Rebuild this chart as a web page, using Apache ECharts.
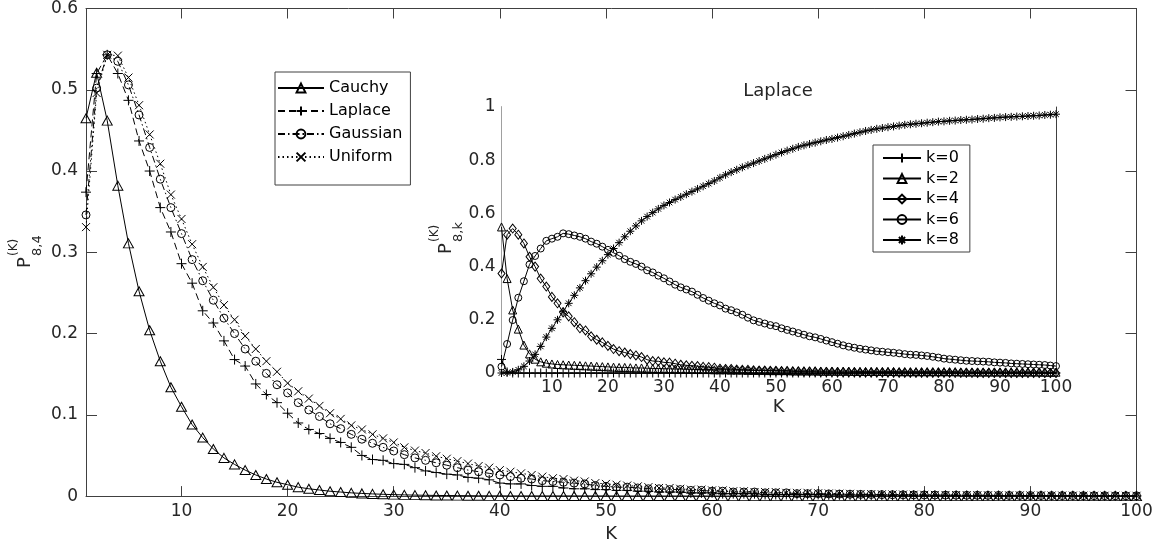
<!DOCTYPE html>
<html><head><meta charset="utf-8">
<script src="https://cdn.jsdelivr.net/npm/echarts@6/dist/echarts.min.js"></script>
<style>html,body{margin:0;padding:0;background:#fff}#c{width:1163px;height:548px}</style>
</head><body><div id="c"></div>
<script>
// ---- data ----
const K = Array.from({length: 100}, (_, i) => i + 1);
const xTicks = [10, 20, 30, 40, 50, 60, 70, 80, 90, 100];
const mainYTicks = ['0', '0.1', '0.2', '0.3', '0.4', '0.5', '0.6'];
const insetYTicks = ['0', '0.2', '0.4', '0.6', '0.8', '1'];

const cauchy = [0.465,0.521,0.462,0.382,0.311,0.252,0.204,0.166,0.134,0.110,
 0.088,0.072,0.058,0.047,0.039,0.032,0.026,0.021,0.017,0.014,
 0.011,0.009,0.0075,0.006,0.005,0.004,0.0033,0.0027,0.0022,0.0018,
 0.0015,0.0012,0.001,0.0008,0.0007,0.0006,0.0005,0.0004,0.0003,0.0003,
 0.0002,0.0002,0.0002,0.0002,0.0002,0.0002,0.0002,0.0002,0.0002,0.0002,
 0.0001,0.0001,0.0001,0.0001,0.0001,0.0001,0.0001,0.0001,0.0001,0.0001,
 0,0,0,0,0,0,0,0,0,0, 0,0,0,0,0,0,0,0,0,0, 0,0,0,0,0,0,0,0,0,0, 0,0,0,0,0,0,0,0,0,0];

const laplace = [0.374,0.520,0.543,0.520,0.487,0.437,0.400,0.355,0.325,0.286,
 0.262,0.228,0.213,0.191,0.168,0.160,0.138,0.125,0.115,0.102,
 0.090,0.082,0.077,0.071,0.066,0.060,0.050,0.045,0.044,0.040,
 0.039,0.035,0.031,0.029,0.027,0.026,0.023,0.022,0.020,0.016,
 0.015,0.015,0.013,0.012,0.012,0.010,0.009,0.009,0.008,0.008,
 0.007,0.007,0.006,0.006,0.005,0.005,0.005,0.004,0.004,0.004,
 0.003,0.003,0.003,0.003,0.002,0.002,0.002,0.002,0.002,0.002,
 0.0015,0.0015,0.0015,0.0012,0.0012,0.0012,0.001,0.001,0.001,0.001,
 0.0008,0.0008,0.0008,0.0007,0.0007,0.0006,0.0006,0.0006,0.0005,0.0005,
 0.0005,0.0004,0.0004,0.0004,0.0003,0.0003,0.0003,0.0003,0.0002,0.0002];

const gaussian = [0.346,0.502,0.543,0.535,0.506,0.469,0.429,0.390,0.355,0.323,
 0.291,0.265,0.241,0.219,0.200,0.181,0.166,0.151,0.137,0.127,
 0.115,0.106,0.098,0.089,0.083,0.076,0.070,0.065,0.060,0.0555,
 0.051,0.047,0.044,0.041,0.038,0.035,0.032,0.030,0.028,0.026,
 0.024,0.022,0.021,0.019,0.018,0.017,0.016,0.015,0.013,0.012,
 0.011,0.011,0.010,0.009,0.009,0.008,0.008,0.007,0.007,0.006,
 0.006,0.005,0.005,0.005,0.004,0.004,0.004,0.003,0.003,0.003,
 0.0027,0.0025,0.0023,0.0021,0.002,0.0018,0.0017,0.0016,0.0015,0.0014,
 0.0013,0.0012,0.0011,0.001,0.001,0.0009,0.0009,0.0008,0.0008,0.0007,
 0.0007,0.0006,0.0006,0.0006,0.0005,0.0005,0.0005,0.0004,0.0004,0.0004];

const uniform = [0.331,0.496,0.543,0.542,0.515,0.481,0.445,0.409,0.371,0.341,
 0.310,0.282,0.257,0.235,0.217,0.197,0.181,0.166,0.153,0.139,
 0.129,0.120,0.111,0.102,0.095,0.087,0.082,0.076,0.071,0.066,
 0.060,0.056,0.053,0.049,0.046,0.043,0.040,0.037,0.035,0.032,
 0.030,0.028,0.026,0.024,0.022,0.021,0.019,0.018,0.016,0.015,
 0.014,0.013,0.012,0.011,0.010,0.010,0.009,0.008,0.008,0.007,
 0.007,0.006,0.006,0.005,0.005,0.005,0.004,0.004,0.004,0.0035,
 0.0032,0.003,0.0028,0.0026,0.0024,0.0022,0.002,0.0019,0.0017,0.0016,
 0.0015,0.0014,0.0013,0.0012,0.0011,0.001,0.001,0.0009,0.0009,0.0008,
 0.0008,0.0007,0.0007,0.0006,0.0006,0.0005,0.0005,0.0005,0.0004,0.0004];

// inset: Laplace, P(K)_{8,k}
const k0 = [0.051,0.004,0,0,0,0,0,0,0,0, 0,0,0,0,0,0,0,0,0,0, 0,0,0,0,0,0,0,0,0,0,
 0,0,0,0,0,0,0,0,0,0, 0,0,0,0,0,0,0,0,0,0, 0,0,0,0,0,0,0,0,0,0,
 0,0,0,0,0,0,0,0,0,0, 0,0,0,0,0,0,0,0,0,0, 0,0,0,0,0,0,0,0,0,0, 0,0,0,0,0,0,0,0,0,0];

const k2 = [0.549,0.355,0.237,0.165,0.105,0.072,0.052,0.042,0.037,0.034,
 0.032,0.031,0.030,0.029,0.028,0.027,0.026,0.025,0.024,0.023,
 0.022,0.021,0.021,0.020,0.019,0.019,0.018,0.017,0.017,0.016,
 0.016,0.015,0.015,0.014,0.014,0.013,0.013,0.013,0.012,0.012,
 0.012,0.011,0.011,0.011,0.010,0.010,0.010,0.010,0.009,0.009,
 0.009,0.009,0.008,0.008,0.008,0.008,0.008,0.007,0.007,0.007,
 0.007,0.007,0.007,0.006,0.006,0.006,0.006,0.006,0.006,0.006,
 0.006,0.005,0.005,0.005,0.005,0.005,0.005,0.005,0.005,0.005,
 0.005,0.005,0.004,0.004,0.004,0.004,0.004,0.004,0.004,0.004,
 0.004,0.004,0.004,0.004,0.004,0.004,0.004,0.003,0.003,0.003];

const k4 = laplace;

const k6 = [0.024,0.109,0.199,0.283,0.345,0.408,0.440,0.468,0.497,0.505,
 0.512,0.525,0.522,0.517,0.512,0.505,0.494,0.486,0.475,0.463,
 0.452,0.441,0.428,0.418,0.410,0.400,0.386,0.378,0.366,0.356,
 0.344,0.332,0.322,0.314,0.306,0.294,0.282,0.272,0.262,0.254,
 0.242,0.236,0.228,0.219,0.208,0.198,0.192,0.186,0.180,0.176,
 0.168,0.162,0.156,0.150,0.144,0.138,0.134,0.128,0.122,0.116,
 0.110,0.104,0.099,0.095,0.091,0.088,0.085,0.082,0.080,0.078,
 0.076,0.074,0.071,0.069,0.068,0.066,0.064,0.061,0.058,0.054,
 0.052,0.050,0.048,0.046,0.045,0.044,0.043,0.042,0.040,0.039,
 0.038,0.036,0.035,0.034,0.033,0.032,0.031,0.030,0.028,0.026];

const k8 = [0.000,0.001,0.004,0.012,0.025,0.045,0.070,0.100,0.135,0.168,
 0.200,0.232,0.262,0.292,0.320,0.347,0.373,0.398,0.422,0.445,
 0.468,0.490,0.512,0.533,0.553,0.572,0.588,0.603,0.617,0.630,
 0.641,0.652,0.662,0.672,0.682,0.692,0.702,0.712,0.722,0.734,
 0.745,0.755,0.764,0.773,0.781,0.789,0.797,0.805,0.813,0.821,
 0.829,0.836,0.843,0.850,0.856,0.861,0.866,0.871,0.876,0.880,
 0.885,0.890,0.895,0.900,0.905,0.910,0.914,0.918,0.921,0.924,
 0.927,0.930,0.933,0.935,0.937,0.939,0.941,0.943,0.945,0.946,
 0.948,0.949,0.951,0.952,0.953,0.955,0.956,0.958,0.959,0.961,
 0.962,0.963,0.964,0.965,0.966,0.967,0.968,0.970,0.971,0.973];

// ---- chart ----
const FONT = '"DejaVu Sans", "Liberation Sans", Arial, sans-serif';
const TXT = '#262626';
const AX = '#404040';
const SYM_PLUS = 'path://M0,5L10,5M5,0L5,10';
const SYM_X = 'path://M0,0L10,10M10,0L0,10';
const SYM_STAR = 'path://M0,5L10,5M5,0L5,10M1.5,1.5L8.5,8.5M8.5,1.5L1.5,8.5';
const pts = arr => arr.map((v, i) => [K[i], v]);

function mkSeries(name, arr, symbol, size, dash, xi, yi, z) {
  return {
    name, type: 'line', xAxisIndex: xi, yAxisIndex: yi, data: pts(arr),
    symbol, symbolSize: size, showSymbol: true, showAllSymbol: true,
    lineStyle: {color: '#000', width: 1, type: dash},
    itemStyle: {color: 'rgba(0,0,0,0)', borderColor: '#000', borderWidth: 1},
    emphasis: {disabled: true}, z: z || 2, silent: true, clip: false
  };
}

function xAx(grid, pos, showLabel, tickLen, name, nameGap) {
  return {
    type: 'value', gridIndex: grid, position: pos, min: 1, max: 100,
    axisLine: {show: true, onZero: false, lineStyle: {color: AX, width: 1}},
    axisTick: {show: true, inside: true, length: tickLen, customValues: xTicks, lineStyle: {color: AX}},
    axisLabel: {show: showLabel, customValues: xTicks, fontSize: 17, color: TXT, fontFamily: FONT, margin: grid === 0 ? 7 : 6},
    splitLine: {show: false},
    name: name || '', nameLocation: 'middle', nameGap: nameGap || 0,
    nameTextStyle: {fontSize: 18, color: TXT, fontFamily: FONT}
  };
}
function yAx(grid, pos, showLabel, tickLen, max, interval, labels) {
  return {
    type: 'value', gridIndex: grid, position: pos, min: 0, max, interval,
    axisLine: {show: true, onZero: false, lineStyle: {color: AX, width: 1}},
    axisTick: {show: true, inside: true, length: tickLen, lineStyle: {color: AX}},
    axisLabel: {show: showLabel, fontSize: 17, color: TXT, fontFamily: FONT, margin: grid === 0 ? 8 : 6,
      formatter: v => labels[Math.round(v / interval)]},
    splitLine: {show: false}
  };
}

function yLabel(px, py, sub) {
  return {
    type: 'group', x: px, y: py, rotation: Math.PI / 2, silent: true,
    children: [
      {type: 'text', x: 0, y: 0, style: {text: 'P', font: '18px ' + FONT, fill: TXT, align: 'left', verticalAlign: 'middle'}},
      {type: 'text', x: 12, y: -11, style: {text: '(K)', font: '12px ' + FONT, fill: TXT, align: 'left', verticalAlign: 'middle'}},
      {type: 'text', x: 12, y: 13, style: {text: sub, font: '13px ' + FONT, fill: TXT, align: 'left', verticalAlign: 'middle'}}
    ]
  };
}

const chart = echarts.init(document.getElementById('c'), null, {renderer: 'canvas'});
chart.setOption({
  animation: false,
  backgroundColor: '#fff',
  textStyle: {fontFamily: FONT},
  grid: [
    {left: 86, right: 26.5, top: 7, bottom: 51},
    {left: 501.5, right: 107, top: 107, bottom: 175, show: true, backgroundColor: '#fff', borderWidth: 0, z: 3}
  ],
  xAxis: [
    xAx(0, 'bottom', true, 10, 'K', 26),
    xAx(0, 'top', false, 10),
    xAx(1, 'bottom', true, 6, 'K', 25),
    xAx(1, 'top', false, 6)
  ],
  yAxis: [
    yAx(0, 'left', true, 11, 0.6, 0.1, mainYTicks),
    yAx(0, 'right', false, 11, 0.6, 0.1, mainYTicks),
    yAx(1, 'left', true, 6, 1, 0.2, insetYTicks),
    yAx(1, 'right', false, 6, 1, 0.2, insetYTicks)
  ],
  legend: [
    {
      data: ['Cauchy', 'Laplace', 'Gaussian', 'Uniform'], orient: 'vertical',
      left: 275, top: 72, itemWidth: 46, itemHeight: 11, itemGap: 7,
      padding: [8, 8, 20, 2], borderColor: AX, borderWidth: 1, backgroundColor: '#fff',
      selectedMode: false, textStyle: {fontSize: 16, color: '#000', lineHeight: 16, fontFamily: FONT}, z: 10
    },
    {
      data: ['k=0', 'k=2', 'k=4', 'k=6', 'k=8'], orient: 'vertical',
      left: 873, top: 145, itemWidth: 38, itemHeight: 11, itemGap: 4.5,
      padding: [5, 11, 4, 9], borderColor: AX, borderWidth: 1, backgroundColor: '#fff',
      selectedMode: false, textStyle: {fontSize: 16, color: '#000', lineHeight: 16, fontFamily: FONT}, z: 10
    }
  ],
  series: [
    mkSeries('Cauchy', cauchy, 'triangle', [10, 9], 'solid', 0, 0),
    mkSeries('Laplace', laplace, SYM_PLUS, 10, [7, 4], 0, 0),
    mkSeries('Gaussian', gaussian, 'circle', 8, [7, 3, 1.5, 3], 0, 0),
    mkSeries('Uniform', uniform, SYM_X, 8, [1.5, 3], 0, 0),
    mkSeries('k=0', k0, SYM_PLUS, 9, 'solid', 2, 2, 5),
    mkSeries('k=2', k2, 'triangle', [8, 8], 'solid', 2, 2, 5),
    mkSeries('k=4', k4, 'diamond', [7, 9], 'solid', 2, 2, 5),
    mkSeries('k=6', k6, 'circle', 7, 'solid', 2, 2, 5),
    mkSeries('k=8', k8, SYM_STAR, 8, 'solid', 2, 2, 5)
  ],
  graphic: [
    yLabel(25, 268, '8,4'),
    yLabel(446, 254, '8,k'),
    {type: 'text', x: 778, y: 91, silent: true, z: 20,
     style: {text: 'Laplace', font: '18px ' + FONT, fill: TXT, align: 'center', verticalAlign: 'middle'}}
  ]
});
</script>
</body></html>
